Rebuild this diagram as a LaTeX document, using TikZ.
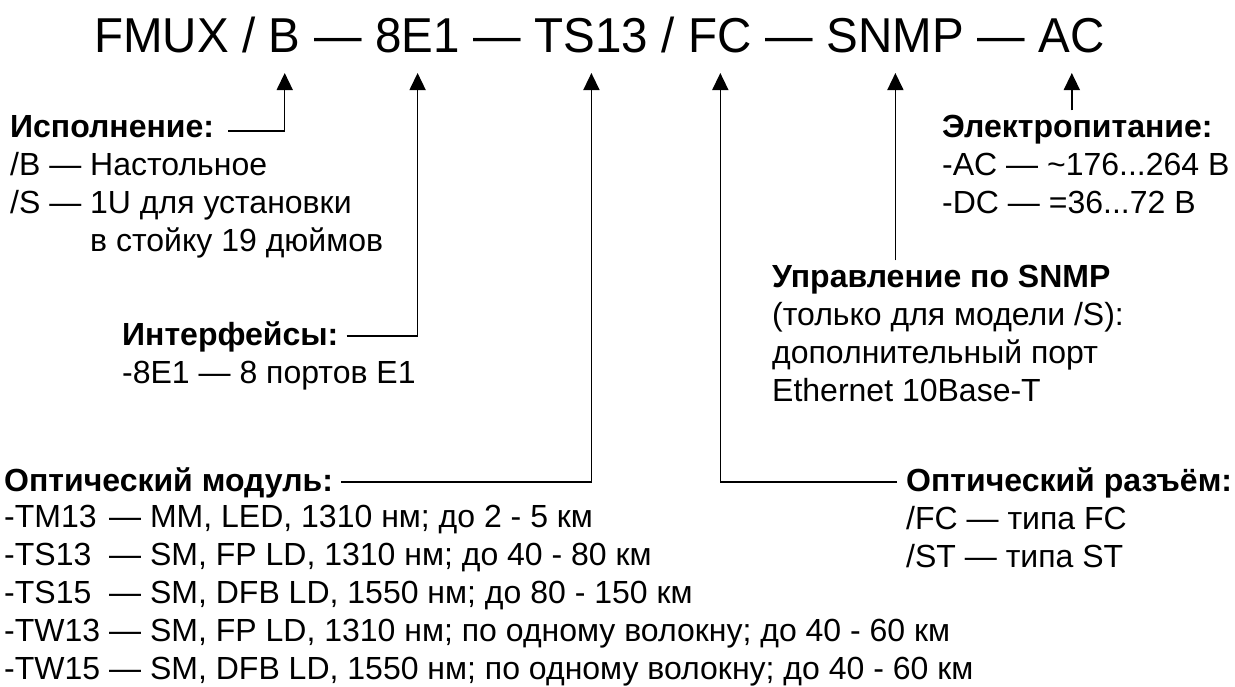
\documentclass[tikz,border=0pt]{standalone}
\usepackage{fontspec}
\setmainfont{Liberation Sans}
\newfontfamily\ttlfont[FakeStretch=0.97]{Liberation Sans}
\usetikzlibrary{arrows.meta,positioning,calc}
\newcommand\bodyfs{\fontsize{32pt}{38pt}\selectfont}
\newcommand\sep[1]{\ #1\ \null}
\tikzset{hd/.style={font=\bodyfs\bfseries,inner sep=0pt,anchor=base west},tx/.style={font=\bodyfs,align=left,inner sep=0pt,anchor=base west},tp/.style={font=\ttlfont\fontsize{49pt}{60pt}\selectfont,inner sep=0pt,anchor=base west},arr/.style={-{Triangle[length=17pt,width=16pt]},line width=1.5pt}}
\begin{document}
\begin{tikzpicture}[x=1pt,y=-1pt]
\useasboundingbox(0,0)rectangle(1235,686);
% code line
\node[tp](t0)at(94,52){FMUX\sep{/}};
\foreach\n/\t[remember=\n as\p(initially t0)]in{tB/B,s1/\sep{—},tE/8E1,s2/\sep{—},tT/TS13,s3/\sep{/},tC/FC,s4/\sep{—},tS/SNMP,s5/\sep{—},tA/AC}
  \node[tp,right=0pt of \p.base east,anchor=base west](\n){\t};
% legend blocks (multi-line nodes sit on their last baseline)
\node[hd](hB)at(10,137){Исполнение:};
\node[tx](bB)at(10,251){/B — Настольное\\/S — 1U для установки\\\phantom{/S — }в стойку 19 дюймов};
\node[hd](hE)at(122,345){Интерфейсы:};
\node[tx](bE)at(122,383){-8E1 — 8 портов E1};
\node[hd](hT)at(4,491){Оптический модуль:};
\node[tx](bT)at(4,679){\makebox[105pt][l]{-TM13}— MM, LED, 1310 нм; до 2 - 5 км\\
\makebox[105pt][l]{-TS13}— SM, FP LD, 1310 нм; до 40 - 80 км\\
\makebox[105pt][l]{-TS15}— SM, DFB LD, 1550 нм; до 80 - 150 км\\
\makebox[105pt][l]{-TW13}— SM, FP LD, 1310 нм; по одному волокну; до 40 - 60 км\\
\makebox[105pt][l]{-TW15}— SM, DFB LD, 1550 нм; по одному волокну; до 40 - 60 км};
\node[hd](hC)at(906,491){Оптический разъём:};
\node[tx](bC)at(906,567){/FC — типа FC\\/ST — типа ST};
\node[hd](hS)at(772,287){Управление по SNMP};
\node[tx](bS)at(772,401){(только для модели /S):\\дополнительный порт\\Ethernet 10Base-T};
\node[hd](hA)at(942,137){Электропитание:};
\node[tx](bA)at(942,213){-AC — \textasciitilde176...264 В\\-DC — =36...72 В};
% connectors
\draw[arr]([xshift=14pt,yshift=6pt]hB.base east)-|([yshift=-21pt]tB.base);
\draw[arr]([xshift=8pt,yshift=9pt]hE.base east)-|([yshift=-21pt]tE.base);
\draw[arr]([xshift=8pt,yshift=9pt]hT.base east)-|([yshift=-21pt]tT.base);
\draw[arr]([xshift=-9pt,yshift=9pt]hC.base west)-|([yshift=-21pt]tC.base);
\draw[arr]($(hS.north-|tS.base)+(0,-4)$)--([yshift=-21pt]tS.base);
\draw[arr]($(hA.north-|tA.base)+(0,-4)$)--([yshift=-21pt]tA.base);
\end{tikzpicture}
\end{document}
